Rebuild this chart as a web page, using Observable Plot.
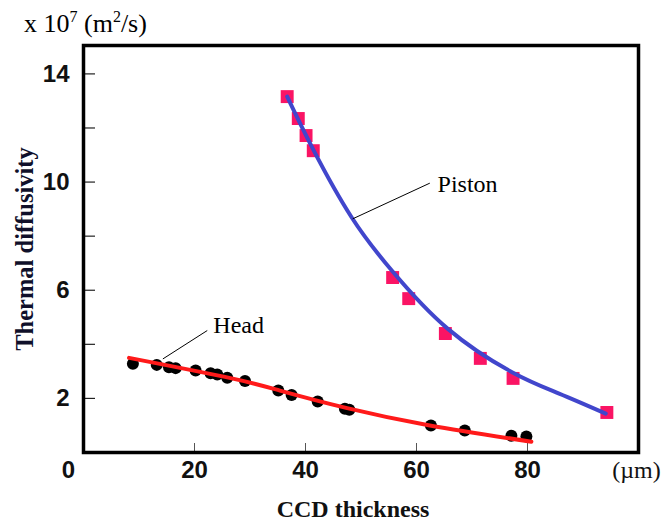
<!DOCTYPE html>
<html><head><meta charset="utf-8">
<script src="https://cdn.jsdelivr.net/npm/d3@7"></script>
<script src="https://cdn.jsdelivr.net/npm/@observablehq/plot@0.6"></script>
<style>body{margin:0;background:#fff}</style>
</head><body><div id="chart"></div>
<script>
// Piston measurements (CCD thickness µm, thermal diffusivity x1e7 m²/s)
const pistonX = [36.7, 38.7, 40.1, 41.4, 55.7, 58.6, 65.2, 71.5, 77.4, 94.3];
const pistonY = [13.16, 12.35, 11.72, 11.16, 6.47, 5.69, 4.40, 3.48, 2.74, 1.48];
// Piston fitted curve
const pistonFitX = [36.7, 41.4, 48.3, 55.7, 65.6, 77.3, 85.7, 94.1];
const pistonFitY = [13.16, 11.2, 8.70, 6.69, 4.58, 2.96, 2.18, 1.44];
// Head measurements
const headX = [8.9, 13.2, 15.4, 16.6, 20.2, 22.9, 24.1, 25.9, 29.1, 35.1, 37.5, 42.2, 47.1, 47.9, 62.6, 68.7, 77.1, 79.8];
const headY = [3.28, 3.24, 3.15, 3.12, 3.03, 2.93, 2.88, 2.76, 2.64, 2.29, 2.13, 1.89, 1.62, 1.58, 1.00, 0.81, 0.62, 0.59];
// Head fitted curve
const headFitX = [8.2, 26.5, 35.4, 47.5, 62.4, 80.7];
const headFitY = [3.50, 2.75, 2.29, 1.64, 1.00, 0.40];
// Annotations
const annotNames = ["Piston", "Head"];
const annotTextX = [63.8, 23.4];
const annotTextY = [9.91, 4.69];
const leaderX1 = [62.4, 22.3];
const leaderY1 = [9.96, 4.51];
const leaderX2 = [48.5, 14.3];
const leaderY2 = [8.64, 3.46];
// Axis ticks and labels
const yTicks = [2, 4, 6, 8, 10, 12, 14];
const yTickLabels = [2, 6, 10, 14];
const xTicks = [20, 40, 60, 80];
const xTickLabels = [20, 40, 60, 80];
const xLabel = "CCD thickness";
const yLabel = "Thermal diffusivity";
const xUnit = "(\u00b5m)";

const piston = pistonX.map((x, i) => ({x, y: pistonY[i]}));
const pistonFit = pistonFitX.map((x, i) => ({x, y: pistonFitY[i]}));
const head = headX.map((x, i) => ({x, y: headY[i]}));
const headFit = headFitX.map((x, i) => ({x, y: headFitY[i]}));
const annots = annotNames.map((name, i) => ({name, tx: annotTextX[i], ty: annotTextY[i],
  x1: leaderX1[i], y1: leaderY1[i], x2: leaderX2[i], y2: leaderY2[i]}));

const serif = "'Liberation Serif', 'Times New Roman', serif";
const sans = "'Liberation Sans', Arial, sans-serif";
const W = 664, H = 522, mL = 83, mR = 26, mT = 45, mB = 70;
const fw = W - mL - mR, fh = H - mT - mB;

const chart = Plot.plot({
  width: W, height: H,
  marginLeft: mL, marginRight: mR, marginTop: mT, marginBottom: mB,
  x: {domain: [0, 100], axis: null},
  y: {domain: [0, 15.05], axis: null},
  style: {background: "#fff"},
  marks: [
    Plot.tickY(yTicks, {y: d => d, insetRight: fw - 12, stroke: "#222", strokeWidth: 1.2}),
    Plot.tickX(xTicks, {x: d => d, insetTop: fh - 9, stroke: "#555", strokeWidth: 1}),
    Plot.text(yTickLabels, {y: d => d, text: d => String(d), frameAnchor: "left", dx: -14,
      textAnchor: "end", lineAnchor: "middle", fontSize: 24, fontWeight: "bold", fontFamily: sans, fill: "#111"}),
    Plot.text(xTickLabels, {x: d => d, text: d => String(d), frameAnchor: "bottom", dy: 18,
      textAnchor: "middle", lineAnchor: "middle", fontSize: 24, fontWeight: "bold", fontFamily: sans, fill: "#111"}),
    Plot.text(["0"], {frameAnchor: "bottom-left", dx: -15, dy: 18, textAnchor: "middle", lineAnchor: "middle",
      fontSize: 24, fontWeight: "bold", fontFamily: sans, fill: "#111"}),
    Plot.text([xUnit], {frameAnchor: "bottom-right", dx: -2, dy: 18, textAnchor: "middle", lineAnchor: "middle",
      fontSize: 24, fontFamily: serif, fill: "#111"}),
    Plot.text([xLabel], {frameAnchor: "bottom", dx: -8, dy: 57, textAnchor: "middle", lineAnchor: "middle",
      fontSize: 24, fontWeight: "bold", fontFamily: serif, fill: "#111"}),
    Plot.text([yLabel], {frameAnchor: "left", dx: -58, rotate: -90, textAnchor: "middle", lineAnchor: "middle",
      fontSize: 24.5, fontWeight: "bold", fontFamily: serif, fill: "#10102a"}),
    Plot.dot(head, {x: "x", y: "y", r: 6, fill: "#000"}),
    Plot.dot(piston, {x: "x", y: "y", r: 7.3, symbol: "square", fill: "#fa1464"}),
    Plot.line(headFit, {x: "x", y: "y", curve: "natural", stroke: "#ff1a1a", strokeWidth: 4}),
    Plot.line(pistonFit, {x: "x", y: "y", curve: "natural", stroke: "#4146cc", strokeWidth: 4}),
    Plot.link(annots, {x1: "x1", y1: "y1", x2: "x2", y2: "y2", stroke: "#000", strokeWidth: 1}),
    Plot.text(annots, {x: "tx", y: "ty", text: "name", textAnchor: "start", lineAnchor: "middle",
      fontSize: 24, fontFamily: serif, fill: "#000"}),
    Plot.frame({stroke: "#000", strokeWidth: 3.5})
  ]
});

const svg = d3.select(chart);
const t = svg.append("text").attr("x", 24).attr("y", 32).attr("text-anchor", "start")
  .attr("font-family", serif).attr("font-size", 26).attr("fill", "#000");
t.append("tspan").text("x 10");
t.append("tspan").attr("font-size", 16).attr("dy", -10).text("7");
t.append("tspan").attr("dy", 10).text(" (m");
t.append("tspan").attr("font-size", 16).attr("dy", -10).text("2");
t.append("tspan").attr("dy", 10).text("/s)");

document.getElementById("chart").appendChild(chart);
</script>
</body></html>
